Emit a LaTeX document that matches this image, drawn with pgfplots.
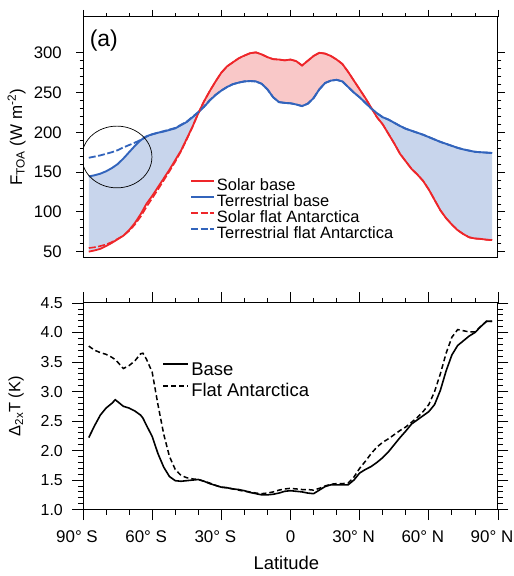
\documentclass[border=0pt]{standalone}
\usepackage{fontspec}
\setmainfont{Liberation Sans}
\usepackage{pgfplots}
\pgfplotsset{compat=1.18}
\usepackage{pgfplotstable}
\usepgfplotslibrary{fillbetween}

\definecolor{nred}{RGB}{238,38,42}
\definecolor{nblue}{RGB}{50,100,188}
\definecolor{bfill}{RGB}{200,213,236}
\definecolor{rfill}{RGB}{249,200,200}

\pgfplotstableread{
lat sb tb sf tf
-87.5 50 144.5 54.5 168
-85 51.5 146 55.5 169.5
-82.5 53.5 148 57 171
-80 57 151 59 173
-77.5 61 155 62 175
-75 65.5 160 66 177.5
-72.5 70 167 70 181
-70 77 175 76 184
-67.5 86 183 84 187
-65 97 190 94 190.5
-62.5 110 195 106 194.5
-60 120 197.5 117 197.5
-57.5 131 199.5 128 199.5
-55 142 201 139.5 201.5
-52.5 153 203 151 203.5
-50 165 205 163 205.5
-47.5 177 209 176 209.5
-45 192 213 191 213.5
-42.5 207 219 207 219.5
-40 224 225 224 225.5
-37.5 239 232 239 232.5
-35 252 240 252 240.5
-32.5 264 247 264 247
-30 275 252.5 275 252.5
-27.5 283 257 283 257
-25 288 260.5 288 260.5
-22.5 293 262.5 293 262.5
-20 296.5 264 296.5 264
-17.5 299.5 264.5 299.5 264.5
-15 300.5 264 300.5 264
-12.5 298 261 298 261
-10 294.5 254 294.5 254
-7.5 292 244 292 244
-5 291.5 238 291.5 238
-2.5 290.5 237 290.5 237
0 291.5 236.5 291.5 236.5
2.5 289.5 235 289.5 235
5 284 233 284 233
7.5 290 236 290 236
10 296 243 296 243
12.5 300 254 300 254
15 299 262 299 262
17.5 296 265 296 265
20 291.5 266 291.5 266
22.5 286 264 286 264
25 276 257 276 257
27.5 265 250 265 250
30 254 244 254 244
32.5 243 237 243 237
35 231 230 231 230
37.5 219 224 219 224
40 210 219 210 219
42.5 198 216 198 216
45 186 212 186 212
47.5 173 208 173 208
50 163.5 204.5 163.5 204.5
52.5 154 202 154 202
55 147 199.5 147 199.5
57.5 139 197 139 197
60 128 194 128 194
62.5 115 191 115 191
65 102 188 102 188
67.5 92 185.5 92 185.5
70 84 183 84 183
72.5 77 180.5 77 180.5
75 72 178.5 72 178.5
77.5 68 177 68 177
80 66.5 175.5 66.5 175.5
82.5 66 175 66 175
85 65 174.5 65 174.5
87.5 64.5 174 64.5 174
}\toptable

\pgfplotstableread{
lat base flat
-87.5 2.22 3.77
-85 2.42 3.70
-82.5 2.60 3.66
-80 2.72 3.63
-77.5 2.80 3.58
-76 2.86 3.54
-75 2.83 3.50
-72.5 2.75 3.39
-70 2.72 3.44
-67.5 2.67 3.52
-65 2.60 3.64
-64 2.55 3.65
-62.5 2.43 3.55
-60 2.24 3.33
-57.5 1.95 2.78
-55 1.72 2.28
-52.5 1.56 1.90
-50 1.49 1.68
-47.5 1.48 1.58
-45 1.49 1.54
-42.5 1.50 1.52
-40 1.51 1.51
-37.5 1.48 1.48
-35 1.44 1.45
-32.5 1.41 1.41
-30 1.38 1.38
-27.5 1.37 1.37
-25 1.35 1.35
-22.5 1.34 1.33
-20 1.32 1.31
-17.5 1.29 1.30
-15 1.27 1.28
-12.5 1.25 1.27
-10 1.25 1.28
-7.5 1.26 1.30
-5 1.28 1.33
-2.5 1.31 1.35
0 1.32 1.36
2.5 1.31 1.35
5 1.30 1.34
7.5 1.28 1.34
10 1.27 1.33
12.5 1.33 1.36
15 1.39 1.40
17.5 1.42 1.43
20 1.42 1.44
22.5 1.42 1.44
25 1.42 1.45
27.5 1.50 1.55
30 1.62 1.70
32.5 1.68 1.82
35 1.73 1.95
37.5 1.80 2.06
40 1.88 2.14
42.5 1.98 2.20
45 2.10 2.27
47.5 2.22 2.34
50 2.33 2.40
52.5 2.45 2.48
55 2.52 2.56
57.5 2.59 2.66
60 2.66 2.78
62.5 2.78 3.00
65 3.02 3.30
67.5 3.35 3.65
70 3.62 3.92
72.5 3.78 4.05
75 3.86 4.03
77.5 3.94 4.01
80 4.00 4.01
82.5 4.10 4.10
85 4.19 4.19
87.5 4.19 4.19
}\bottable

\begin{document}
\begin{tikzpicture}
% ---------------- top panel ----------------
\begin{axis}[
  at={(83bp,318bp)}, anchor=south west, scale only axis,
  width=415bp, height=241bp,
  xmin=-90, xmax=90, ymin=42, ymax=345,
  xtick={-90,-60,-30,0,30,60,90}, minor x tick num=2,
  xtick pos=right, xticklabels={},
  ytick={50,100,150,200,250,300}, minor y tick num=4,
  ytick pos=both, yticklabel pos=left,
  tick align=outside, major tick length=7bp, minor tick length=3.5bp,
  axis line style={line width=1bp},
  every tick/.style={black, line width=0.8bp},
  /pgf/number format/assume math mode=true,
  yticklabel style={font=\fontsize{16.8}{18}\selectfont, anchor=east, inner sep=0pt},
  yticklabel={\pgfmathprintnumber{\tick}\kern 14bp},
  every axis y label/.style={at={(rel axis cs:-0.16,0.5)}, rotate=90, anchor=center},
  ylabel={\fontsize{17}{18}\selectfont F\textsubscript{TOA} (W m\textsuperscript{-2})},
  legend style={at={(0.258,0.327)}, anchor=north west, draw=none, fill=none,
    inner sep=0pt, outer sep=0pt, font=\fontsize{16.5}{16}\selectfont, row sep=1bp,
    nodes={inner sep=0pt, text height=11bp, text depth=4bp}},
  legend cell align=left,
  legend image code/.code={\draw[#1] (0bp,5.5bp) -- (23bp,5.5bp); \path (0bp,0bp) (25bp,0bp);},
]
\addplot[draw=none, name path=tb, forget plot] table[x=lat, y=tb] {\toptable};
\addplot[draw=none, name path=sb, forget plot] table[x=lat, y=sb] {\toptable};
\addplot[bfill, forget plot] fill between[of=tb and sb, soft clip={domain=-90:-40}];
\addplot[rfill, forget plot] fill between[of=tb and sb, soft clip={domain=-40:35.3}];
\addplot[bfill, forget plot] fill between[of=tb and sb, soft clip={domain=35.3:90}];

\addplot[nred, line width=1.8bp] table[x=lat, y=sb] {\toptable};
\addplot[nblue, line width=1.9bp] table[x=lat, y=tb] {\toptable};
\addplot[nred, line width=1.6bp, dash pattern=on 7bp off 2.5bp] table[x=lat, y=sf] {\toptable};
\addplot[nblue, line width=1.8bp, dash pattern=on 7bp off 2.5bp] table[x=lat, y=tf] {\toptable};
\legend{Solar base, Terrestrial base, Solar flat Antarctica, Terrestrial flat Antarctica}

\draw[black, line width=0.7bp] (axis cs:-75.3,169) ellipse [x radius=15.2, y radius=38.8];
\node[anchor=base west, font=\fontsize{23}{23}\selectfont] at (rel axis cs:0.008,0.879) {(a)};
\end{axis}

% ---------------- bottom panel ----------------
\begin{axis}[
  at={(83bp,66.4bp)}, anchor=south west, scale only axis,
  width=415bp, height=206.6bp,
  xmin=-90, xmax=90, ymin=1, ymax=4.5,
  xtick={-90,-60,-30,0,30,60,90}, minor x tick num=2,
  xtick pos=both, xticklabel pos=left,
  xticklabels={90° S, 60° S, 30° S, \hspace*{12bp}0, 30° N, 60° N, 90° N},
  ytick={1,1.5,...,4.5}, minor y tick num=4,
  ytick pos=both, yticklabel pos=left,
  tick align=outside, major tick length=10.5bp, minor tick length=5bp,
  axis line style={line width=1bp},
  every tick/.style={black, line width=0.8bp},
  /pgf/number format/.cd, fixed, fixed zerofill, precision=1, assume math mode=true,
  /pgfplots/.cd,
  yticklabel style={font=\fontsize{16}{18}\selectfont, anchor=east, inner sep=0pt},
  yticklabel={\pgfmathprintnumber{\tick}\kern 9.5bp},
  xticklabel style={font=\fontsize{17}{18}\selectfont, yshift=-7bp, xshift=-6bp},
  every axis y label/.style={at={(rel axis cs:-0.161,0.5)}, rotate=90, anchor=center},
  ylabel={\fontsize{16.5}{18}\selectfont Δ\textsubscript{2x}T (K)},
  every axis x label/.style={at={(rel axis cs:0.49,-0.256)}, anchor=center},
  xlabel={\fontsize{18.5}{20}\selectfont Latitude},
  legend style={at={(0.192,0.719)}, anchor=north west, draw=none, fill=none,
    inner sep=0pt, outer sep=0pt, font=\fontsize{18.5}{19}\selectfont, row sep=2.7bp,
    nodes={inner sep=0pt, text height=14bp, text depth=5bp}},
  legend cell align=left,
  legend image code/.code={\draw[#1] (0bp,6.5bp) -- (25bp,6.5bp); \path (0bp,0bp) (27bp,0bp);},
]
\addplot[black, line width=1.6bp] table[x=lat, y=base] {\bottable};
\addplot[black, line width=1.5bp, dash pattern=on 5bp off 3bp] table[x=lat, y=flat] {\bottable};
\legend{Base, Flat Antarctica}
\end{axis}
\pgfresetboundingbox
\path (0,0) rectangle (514bp,576bp);
\end{tikzpicture}
\end{document}
